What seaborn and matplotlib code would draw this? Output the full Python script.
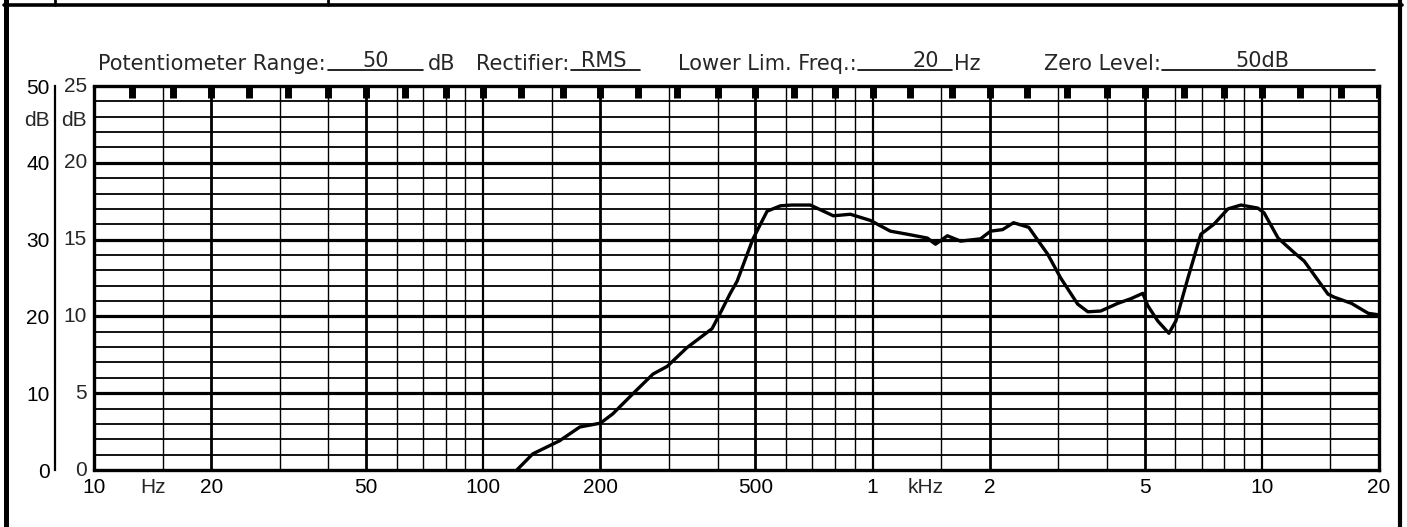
import numpy as np
import pandas as pd
import matplotlib.pyplot as plt
import seaborn as sns
from matplotlib.lines import Line2D

# Frequency response
freq_hz = [122, 134, 157, 177, 200, 215, 242, 273, 297, 333, 387, 406, 430, 449,
           470, 493, 536, 580, 620, 692, 793, 877, 987, 1111, 1228, 1383, 1451,
           1557, 1683, 1894, 2010, 2158, 2302, 2519, 2818, 3043, 3365, 3573, 3857,
           4266, 4607, 4945, 5094, 5404, 5772, 6014, 6459, 6973, 7531, 8185, 8838,
           9767, 10130, 11010, 12110, 12850, 14790, 15350, 16990, 18770, 20000]
level_db = [0, 2.1, 3.8, 5.6, 6.1, 7.3, 9.9, 12.5, 13.5, 15.9, 18.4, 20.4, 22.9, 24.6,
            27.3, 30.1, 33.7, 34.4, 34.5, 34.5, 33.1, 33.3, 32.5, 31.1, 30.7, 30.2, 29.4,
            30.5, 29.8, 30.1, 31.1, 31.3, 32.2, 31.6, 28.1, 25.0, 21.6, 20.6, 20.7,
            21.7, 22.3, 23.0, 21.4, 19.4, 17.8, 19.4, 25.0, 30.7, 32.0, 34.0, 34.5,
            34.1, 33.5, 30.2, 28.3, 27.2, 22.9, 22.5, 21.7, 20.4, 20.2]

# x tick labels printed on the paper
tick_freqs = [10, 20, 50, 100, 200, 500, 1000, 2000, 5000, 10000, 20000]
tick_labels = ['10', '20', '50', '100', '200', '500', '1', '2', '5', '10', '20']

# left scale: 50 dB range outside, 25 dB range inside
db_ticks = [0, 10, 20, 30, 40, 50]
db_labels_50 = ['0', '10', '20', '30', '40', '50']
db_labels_25 = ['0', '5', '10', '15', '20', '25']

# third-octave marks along the top edge
third_octave = [12.5, 16, 20, 25, 31.5, 40, 50, 63, 80, 100, 125, 160, 200, 250,
                315, 400, 500, 630, 800, 1000, 1250, 1600, 2000, 2500, 3150, 4000,
                5000, 6300, 8000, 10000, 12500, 16000, 20000]

sns.set_style('white')
plt.rcParams['font.family'] = ['Liberation Sans', 'DejaVu Sans']
fs = 15

W, H = 1407, 527
fig = plt.figure(figsize=(W / 100, H / 100), dpi=100)
ax = fig.add_axes([94 / W, 57 / H, 1285 / W, 384 / H])
ax.set_xscale('log')

# paper grid
for dec in [10, 100, 1000, 10000]:
    for m in [1, 1.5, 2, 3, 4, 5, 6, 7, 8, 9]:
        f = dec * m
        if f >= 20000:
            continue
        lw = 2.0 if m in (2, 5) else 1.6 if m == 1 else 1.0
        ax.axvline(f, color='k', lw=lw, zorder=1)
ax.axvline(10, color='k', lw=2.4, zorder=2, clip_on=False)
for db in range(2, 50, 2):
    ax.axhline(db, color='k', lw=2.3 if db % 10 == 0 else 1.3, zorder=1)

ax.vlines(third_octave, 48.4, 50, colors='k', lw=5, zorder=3)

# the response curve
curve = pd.DataFrame({'Frequency (Hz)': freq_hz, 'Level (dB)': level_db})
sns.lineplot(data=curve, x='Frequency (Hz)', y='Level (dB)', color='black',
             lw=2.4, ax=ax, zorder=4)

ax.set_xlim(10, 20000)
ax.set_ylim(0, 50)
ax.set_xlabel('')
ax.set_ylabel('')

ax.set_xticks(tick_freqs, tick_labels)
ax.xaxis.set_minor_locator(plt.NullLocator())
ax.tick_params(axis='x', length=0, pad=6, labelsize=fs, colors='k')
ax.text(14.2, -0.022, 'Hz', transform=ax.get_xaxis_transform(), ha='center',
        va='top', fontsize=fs)
ax.text(1370, -0.022, 'kHz', transform=ax.get_xaxis_transform(), ha='center',
        va='top', fontsize=fs)

for s in ['top', 'right', 'bottom']:
    ax.spines[s].set_linewidth(2.4)
    ax.spines[s].set_color('k')
ax.spines['left'].set_position(('outward', 28))
ax.spines['left'].set_bounds(0, 50)
ax.spines['left'].set_linewidth(1.6)
ax.spines['left'].set_color('k')
ax.set_yticks(db_ticks, db_labels_50)
ax.set_yticks(range(0, 51, 2), minor=True)
ax.tick_params(axis='y', which='major', direction='in', length=5, width=2.2,
               pad=4, labelsize=fs, colors='k')
ax.tick_params(axis='y', which='minor', direction='in', length=4, width=1.4,
               colors='k')
for y, lab in zip(db_ticks, db_labels_25):
    ax.text(-7 / 1285, y, lab, transform=ax.get_yaxis_transform(), ha='right',
            va='center', fontsize=fs)
ax.text(-44 / 1285, 45.5, 'dB', transform=ax.get_yaxis_transform(), ha='right',
        va='center', fontsize=fs)
ax.text(-7 / 1285, 45.5, 'dB', transform=ax.get_yaxis_transform(), ha='right',
        va='center', fontsize=fs)

# header line with filled-in blanks
hdr = dict(fontsize=15, va='baseline', family=['DejaVu Sans'])
yb = 1 - 70 / H
yv = 1 - 67 / H
yu = 1 - 69.5 / H
fig.text(326 / W, yb, 'Potentiometer Range:', ha='right', **hdr)
fig.text(376 / W, yv, '50', ha='center', **hdr)
fig.text(428 / W, yb, 'dB', ha='left', **hdr)
fig.text(476 / W, yb, 'Rectifier:', ha='left', **hdr)
fig.text(604 / W, yv, 'RMS', ha='center', **hdr)
fig.text(857 / W, yb, 'Lower Lim. Freq.:', ha='right', **hdr)
fig.text(926 / W, yv, '20', ha='center', **hdr)
fig.text(954 / W, yb, 'Hz', ha='left', **hdr)
fig.text(1161 / W, yb, 'Zero Level:', ha='right', **hdr)
fig.text(1262 / W, yv, '50dB', ha='center', **hdr)
for x0, x1 in [(328, 423), (571, 640), (858, 952), (1162, 1375)]:
    fig.add_artist(Line2D([x0 / W, x1 / W], [yu, yu], color='k', lw=1.2))

# sheet border
fig.add_artist(Line2D([6 / W, 6 / W], [0, 1], color='k', lw=3.6))
fig.add_artist(Line2D([1400 / W, 1400 / W], [0, 1], color='k', lw=3.0))
fig.add_artist(Line2D([4 / W, 1402 / W], [1 - 5 / H, 1 - 5 / H], color='k', lw=2.6))
for x in [55, 328]:
    fig.add_artist(Line2D([x / W, x / W], [1 - 5 / H, 1], color='k', lw=2.0))

fig.savefig('out.png', dpi=100)
